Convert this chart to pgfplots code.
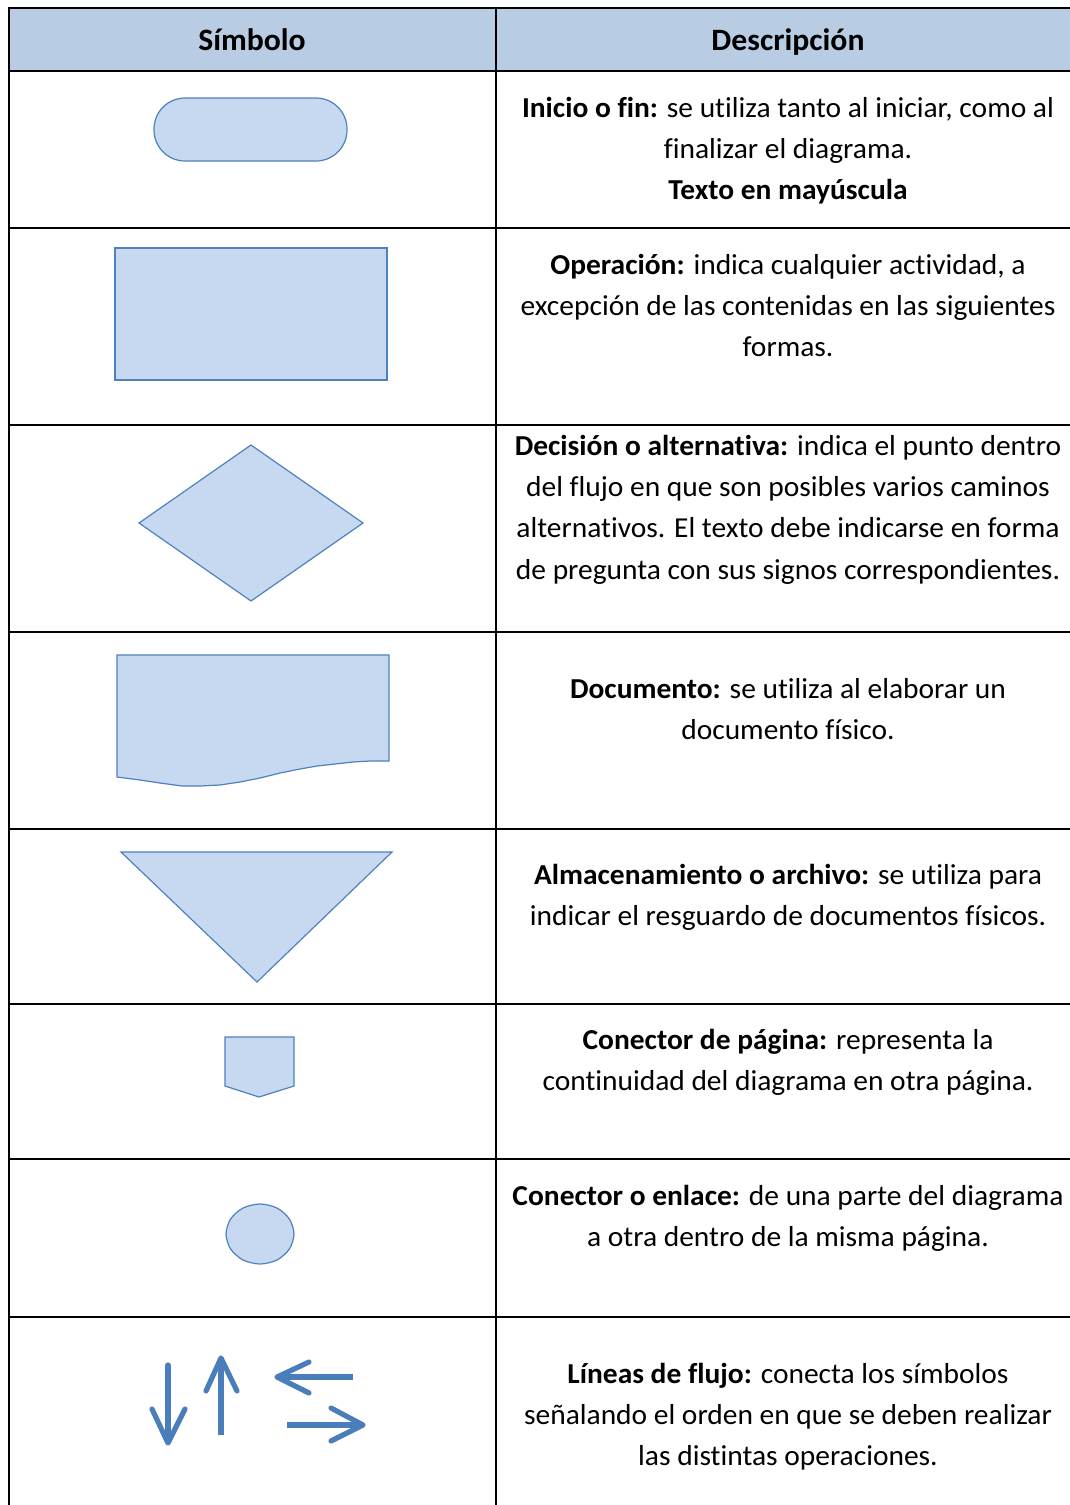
\documentclass[border=0pt]{standalone}
\usepackage{fontspec}
\setmainfont[FakeStretch=1.02,Ligatures=NoCommon]{Carlito}
\usepackage{pgfplots}
\pgfplotsset{compat=1.18}
\definecolor{hdr}{HTML}{B8CCE4}
\definecolor{shp}{HTML}{C6D9F1}
\definecolor{stk}{HTML}{4F81BD}
\definecolor{arr}{HTML}{4A7EBB}
\tikzset{txt/.style={font=\fontsize{14.5}{17}\selectfont,anchor=mid,inner sep=0pt,yshift=-2.8bp},
         hd/.style={font=\fontsize{15.6}{18}\selectfont\bfseries,anchor=mid,inner sep=0pt,yshift=-2.8bp}}
\begin{document}
\begin{tikzpicture}
\begin{axis}[x=0.5bp,y=0.5bp,y dir=reverse,xmin=0,xmax=1070,ymin=0,ymax=1505,
  hide axis,clip=false,scale only axis]
\coordinate (A) at (axis cs:0,1505);
\coordinate (B) at (axis cs:1070,0);
% background
\addplot[fill=white,draw=none] coordinates {(0,0)(1070,0)(1070,1505)(0,1505)} --cycle;
% header fill
\addplot[fill=hdr,draw=none] coordinates {(9,8)(1070,8)(1070,71)(9,71)} --cycle;
% table lines
\addplot[black,line width=1bp] coordinates {(9,1505)(9,8)(1070,8)};
\addplot[black,line width=1bp] coordinates {(496,8)(496,1505)};
\addplot[black,line width=1bp] coordinates {(9,71)(1070,71)};
\addplot[black,line width=1bp] coordinates {(9,228)(1070,228)};
\addplot[black,line width=1bp] coordinates {(9,425)(1070,425)};
\addplot[black,line width=1bp] coordinates {(9,632)(1070,632)};
\addplot[black,line width=1bp] coordinates {(9,829)(1070,829)};
\addplot[black,line width=1bp] coordinates {(9,1004)(1070,1004)};
\addplot[black,line width=1bp] coordinates {(9,1159)(1070,1159)};
\addplot[black,line width=1bp] coordinates {(9,1317)(1070,1317)};
% shapes
\addplot[fill=shp,draw=stk,line width=0.6bp,rounded corners=15.5bp] coordinates {(154,98)(347,98)(347,161)(154,161)} --cycle;
\addplot[fill=shp,draw=stk,line width=0.6bp] coordinates {(115,248)(387,248)(387,380)(115,380)} --cycle;
\addplot[fill=shp,draw=stk,line width=0.6bp] coordinates {(139,523)(251,445)(363,523)(251,601)} --cycle;
\addplot[fill=shp,draw=stk,line width=0.6bp] coordinates {(117,655)(389,655)(389,761)(370,761)(353,762)(335,764)(317,766)(300,769)(280,773)(260,778)(240,782)(220,785)(200,786)(182,786)(160,783)(140,780)(117,777)} --cycle;
\addplot[fill=shp,draw=stk,line width=0.6bp] coordinates {(121,852)(392,852)(257,982)} --cycle;
\addplot[fill=shp,draw=stk,line width=0.6bp] coordinates {(225,1037)(294,1037)(294,1086)(259,1097)(225,1086)} --cycle;
\addplot[fill=shp,draw=stk,line width=0.6bp,smooth cycle] coordinates {(294,1234)(289.4,1219)(277,1208)(260,1204)(243,1208)(230.6,1219)(226,1234)(230.6,1249)(243,1260)(260,1264)(277,1260)(289.4,1249)};
% arrows
\addplot[arr,line width=2.6bp,line cap=round,line join=round] coordinates {(168,1365)(168,1441)};
\addplot[arr,line width=2.6bp,line cap=round,line join=round] coordinates {(152,1409)(168,1443)(185,1409)};
\addplot[arr,line width=2.6bp,line cap=butt,line join=round] coordinates {(221,1435)(221,1360)};
\addplot[arr,line width=2.6bp,line cap=round,line join=round] coordinates {(206,1391)(221,1358)(237,1391)};
\addplot[arr,line width=2.6bp,line cap=butt,line join=round] coordinates {(353,1377)(279,1377)};
\addplot[arr,line width=2.6bp,line cap=round,line join=round] coordinates {(309,1362)(277,1377)(309,1393)};
\addplot[arr,line width=2.6bp,line cap=butt,line join=round] coordinates {(287,1425)(361,1425)};
\addplot[arr,line width=2.6bp,line cap=round,line join=round] coordinates {(331,1408)(363,1425)(331,1441)};
% text
\node[hd] at (axis cs:252,40) {Símbolo};
\node[hd] at (axis cs:788,40) {Descripción};
\node[txt] at (axis cs:788,107) {\textbf{Inicio o fin:} se utiliza tanto al iniciar, como al};
\node[txt] at (axis cs:788,148) {finalizar el diagrama.};
\node[txt] at (axis cs:788,189) {\textbf{Texto en mayúscula}};
\node[txt] at (axis cs:788,264) {\textbf{Operación:} indica cualquier actividad, a};
\node[txt] at (axis cs:788,305) {excepción de las contenidas en las siguientes};
\node[txt] at (axis cs:788,346) {formas.};
\node[txt] at (axis cs:788,445) {\textbf{Decisión o alternativa:} indica el punto dentro};
\node[txt] at (axis cs:788,486) {del flujo en que son posibles varios caminos};
\node[txt] at (axis cs:788,527) {alternativos. El texto debe indicarse en forma};
\node[txt] at (axis cs:788,569) {de pregunta con sus signos correspondientes.};
\node[txt] at (axis cs:788,688) {\textbf{Documento:} se utiliza al elaborar un};
\node[txt] at (axis cs:788,729) {documento físico.};
\node[txt] at (axis cs:788,874) {\textbf{Almacenamiento o archivo:} se utiliza para};
\node[txt] at (axis cs:788,915) {indicar el resguardo de documentos físicos.};
\node[txt] at (axis cs:788,1039) {\textbf{Conector de página:} representa la};
\node[txt] at (axis cs:788,1080) {continuidad del diagrama en otra página.};
\node[txt] at (axis cs:788,1195) {\textbf{Conector o enlace:} de una parte del diagrama};
\node[txt] at (axis cs:788,1236) {a otra dentro de la misma página.};
\node[txt] at (axis cs:788,1373) {\textbf{Líneas de flujo:} conecta los símbolos};
\node[txt] at (axis cs:788,1414) {señalando el orden en que se deben realizar};
\node[txt] at (axis cs:788,1455) {las distintas operaciones.};
\end{axis}
\pgfresetboundingbox
\path (A) rectangle (B);
\end{tikzpicture}
\end{document}
